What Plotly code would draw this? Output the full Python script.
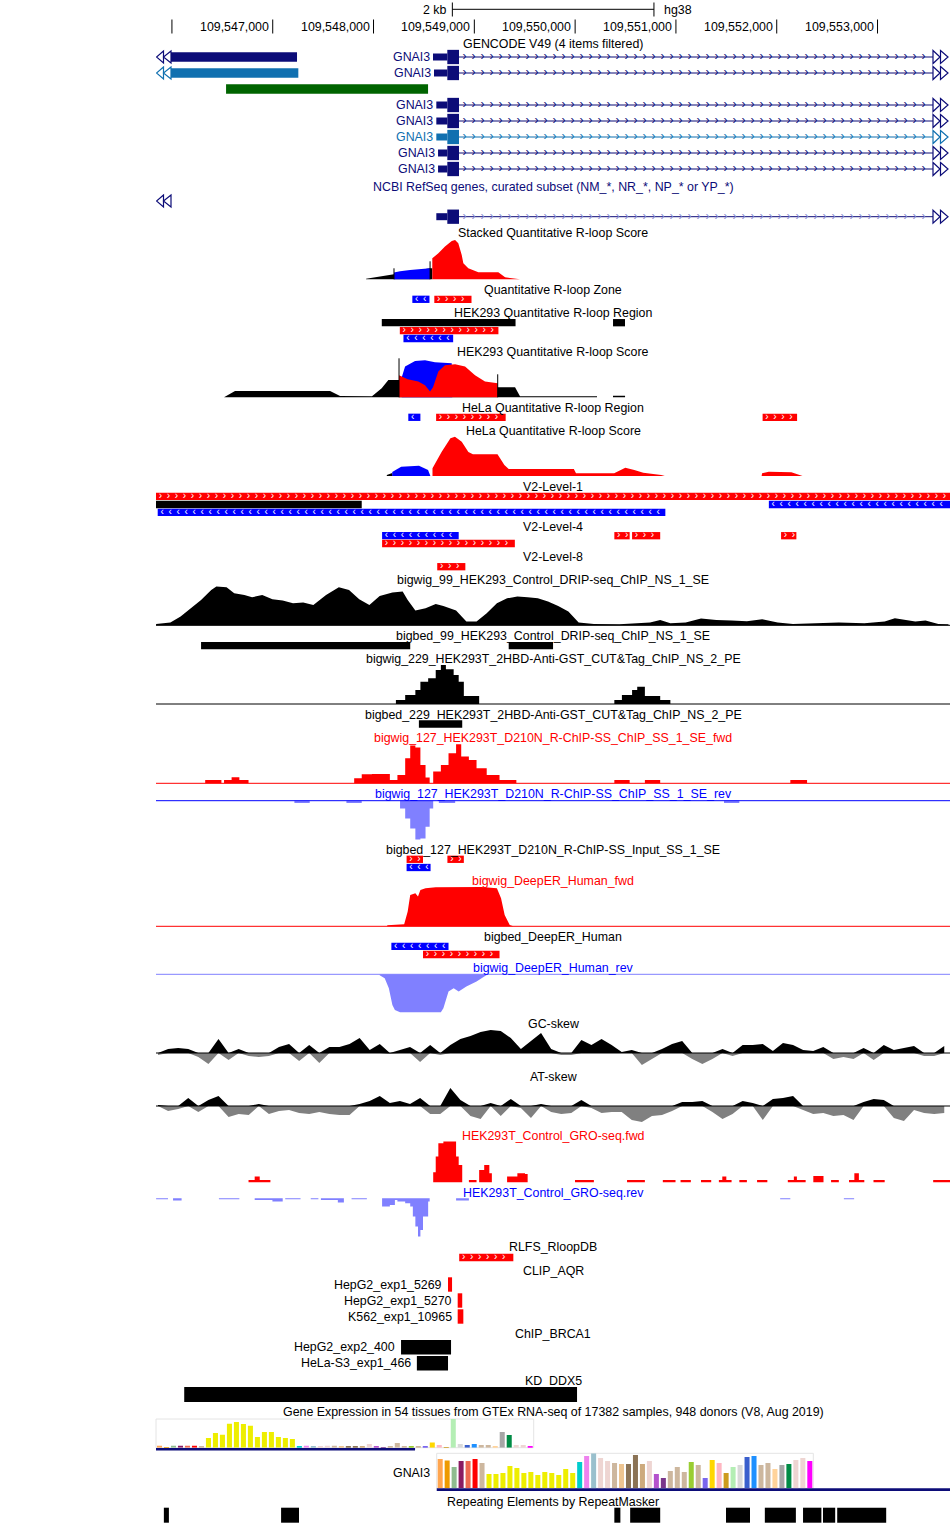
"""UCSC-style browser view of chr1 around GNAI3 (hg38), redrawn with Plotly."""
import plotly.graph_objects as go

# ------------------------------------------------------------------ data
VIEW = [109545842, 109553719]
RULER_TICKS = [109546000, 109547000, 109548000, 109549000,
               109550000, 109551000, 109552000, 109553000]
SCALE_BAR = [109548782, 109550782]

# GENCODE: genes on the left edge (start, end) and GNAI3 transcripts
LEFT_GENES = [(109545981, 109547241), (109545981, 109547254), (109546537, 109548541)]
GNAI3_TX_START = [109548590, 109548600, 109548623, 109548623, 109548623, 109548640, 109548640]
GNAI3_CDS_START = 109548732
GNAI3_EXON1_END = 109548848
GNAI3_END = 109595000
REFSEQ_TX_START = 109548623

# Stacked Quantitative R-loop Score
STACK_BLACK_X = [109547926, 109548048, 109548131, 109548203, 109548561, 109548583]
STACK_BLACK_Y = [0.5, 2.3, 3.7, 5, 11, 11]
STACK_BLUE_X = [109548203, 109548263, 109548362, 109548461, 109548561]
STACK_BLUE_Y = [6.7, 8, 9.3, 10, 11]
STACK_RED_X = [109548583, 109548643, 109548709, 109548776, 109548809, 109548841, 109548875,
               109548891, 109548940, 109549040, 109549238, 109549305, 109549453]
STACK_RED_Y = [21, 26, 32.7, 38.3, 39.3, 36, 24.3, 16, 11, 7, 7, 2, 0]
STACK_MARK_X = [109548203, 109548561]
STACK_MARK_Y = [11, 18]

# HEK293 Quantitative R-loop Score
HEK_BLACK_X = [109546517, 109546626, 109547569, 109547668, 109547985, 109548081, 109548147,
               109548253, 109549232, 109549404, 109549453, 109550217, 109550218, 109550375,
               109550376, 109550495, 109550496]
HEK_BLACK_Y = [0, 6.3, 6.3, 1.3, 1, 9, 17.3, 17.3, 10, 10, 1, 1, 0, 0, 1.5, 1.5, 0]
HEK_BLUE_X = [109548280, 109548313, 109548412, 109548511, 109548610, 109548709, 109548776, 109548781]
HEK_BLUE_Y = [20, 30.7, 36.3, 37, 35, 34, 34, 0]
HEK_RED_X = [109548253, 109548339, 109548444, 109548511, 109548561, 109548590, 109548643,
             109548709, 109548809, 109548908, 109549007, 109549106, 109549232]
HEK_RED_Y = [22, 18, 15.7, 12, 5.7, 10, 25.7, 32, 33, 30.7, 22, 15.7, 14]
HEK_MARK_X = [109548253, 109549232]
HEK_MARK_Y = [39, 23]

# HeLa Quantitative R-loop Score
HELA_BLACK_X = [109548132, 109548186, 109548190]
HELA_BLACK_Y = [1, 3, 0]
HELA_BLUE_X = [109548186, 109548274, 109548451, 109548541, 109548564]
HELA_BLUE_Y = [4, 9.3, 10.3, 6, 0]
HELA_RED_X = [109548585, 109548675, 109548763, 109548808, 109548875, 109548941, 109548986,
              109549230, 109549298, 109549341, 109549987, 109550009, 109550387, 109550498,
              109550587, 109550676, 109550854, 109550890, 109551850, 109551855, 109551921,
              109552145, 109552256]
HELA_RED_Y = [7.7, 24, 37.7, 39.3, 34.3, 24, 21.7, 21.7, 11, 7, 7, 2.7, 2.7, 8.3,
              6, 3.3, 1, 0, 0, 2.7, 4.3, 3.7, 0]

# bigwig_99 DRIP-seq
DRIP_X = [109545843, 109545985, 109546086, 109546188, 109546289, 109546390, 109546441, 109546542,
          109546618, 109546719, 109546795, 109546896, 109546997, 109547099, 109547201, 109547302,
          109547403, 109547529, 109547656, 109547757, 109547858, 109547959, 109548061, 109548187,
          109548289, 109548339, 109548415, 109548516, 109548617, 109548693, 109548819, 109548921,
          109549022, 109549123, 109549224, 109549325, 109549427, 109549529, 109549630, 109549731,
          109549832, 109549933, 109550035, 109550186, 109550439, 109550743, 109550844, 109550945,
          109551097, 109551249, 109551401, 109551552, 109551704, 109551856, 109552009, 109552161,
          109552363, 109552616, 109552869, 109553071, 109553172, 109553274, 109553375, 109553476,
          109553603, 109553704]
DRIP_Y = [1.3, 2.7, 8.7, 17, 25.3, 35.3, 38.7, 38, 32, 30.3,
          28, 30.3, 26, 24.7, 22, 22.7, 20.3, 30.3, 38, 35.3,
          26, 20.3, 29.3, 32.7, 33.7, 25.3, 14.7, 17, 21.3, 19.3,
          14.7, 3.7, 3.7, 12, 22, 27, 28.7, 28, 27, 23.7,
          19.3, 13.7, 2.7, 1.3, 1, 2.7, 5.3, 2, 2.7, 6.7,
          5.3, 4.7, 4, 6, 2.7, 1.3, 2, 2.7, 2, 3.7,
          7, 5.3, 3.7, 4.7, 1.3, 1]

# bigwig_229 CUT&Tag (step signal)
CUT_X = [109548222, 109548314, 109548415, 109548465, 109548542, 109548617, 109548668, 109548718,
         109548795, 109548845, 109548896, 109549048, 109550389, 109550464, 109550565, 109550616,
         109550692, 109550844, 109550945]
CUT_Y = [4, 9, 14, 22.3, 25.7, 34, 39, 34.7, 29, 22.3, 8, 0, 4, 9, 14, 17.3, 8, 4, 0]

# bigwig_127 R-ChIP fwd / rev (step signals)
RCHIP_FWD_X = [109546330, 109546491, 109546517, 109546592, 109546669, 109546760, 109547808,
               109547883, 109547984, 109548162, 109548237, 109548314, 109548364, 109548415,
               109548465, 109548516, 109548557, 109548592, 109548668, 109548744, 109548819,
               109548870, 109548946, 109549022, 109549123, 109549250, 109549417, 109550389,
               109550541, 109550692, 109550844, 109552135, 109552301]
RCHIP_FWD_Y = [3.3, 0, 3.3, 6, 3.3, 0, 5, 9, 9.3, 3.3, 8.3, 25, 37.7, 35.7, 18.3, 5.7, 0,
               11.7, 18.3, 30, 39, 26.7, 23.3, 15, 8.3, 3.3, 0, 3.3, 0, 3.3, 0, 3.3, 0]
RCHIP_REV_X = [109547215, 109547367, 109547731, 109547883, 109548263, 109548314, 109548364,
               109548415, 109548465, 109548516, 109548557, 109548592, 109548648, 109548810,
               109551477, 109551629]
RCHIP_REV_Y = [-2.3, 0, -2.3, 0, -7.7, -17.7, -27.7, -38.7, -37.7, -26, -7.7, 0, -2.3, 0, -2.3, 0]

# DeepER fwd / rev
DEEPER_FWD_X = [109548136, 109548212, 109548304, 109548339, 109548364, 109548415, 109548441,
                109548465, 109548516, 109548617, 109548819, 109549072, 109549224, 109549265,
                109549301, 109549351, 109549387]
DEEPER_FWD_Y = [1, 1.3, 2, 14.7, 31.3, 33, 29.7, 36.3, 38, 39, 39.3, 39.3, 38, 28, 11.3, 1.3, 0]
DEEPER_REV_X = [109548061, 109548111, 109548152, 109548187, 109548212, 109548263, 109548668,
                109548693, 109548744, 109548795, 109548845, 109548921, 109549022, 109549098,
                109549134]
DEEPER_REV_Y = [-1, -4, -14, -30.7, -35.7, -38, -38, -34, -17.3, -14, -17.3, -12.3, -7.3, -2.3, 0]

# GC / AT skew, 100 bp bins starting at SKEW_START
SKEW_START = 109545862
SKEW_BIN = 100
GC_SKEW = [-2, 4, 5, 4, -4, -11, 14, -7, 4, -3, -4, -3, 6, 9, -8, 8, -10, 6, 6, 9,
           15, 3, 9, -1, 3, 6, -9, 8, -2, 8, 14, 17, 21, 23, 22, 15, 4, 12, 20, 4,
           -2, -2, 13, 8, 14, 8, 1, 3, -12, -6, 4, 9, 12, -6, -11, -6, 4, -3, 8, 8,
           9, 2, 10, 8, 3, 2, 6, -6, -4, -6, 5, -7, 8, 3, 5, 7, -3, -3, 7]
AT_SKEW = [1, -5, -3, 8, -6, 6, 10, -11, -8, -9, 2, -8, -5, -4, -7, -8, -6, -8, -9, -9,
           2, 5, 10, 3, 5, 2, 8, -8, -8, 18, 6, -10, -13, 3, -10, 7, -2, -12, 2, -6,
           -8, -7, 6, -2, -7, -6, -6, -14, -16, -10, -9, -5, 4, 4, 5, -6, -13, -8, 5, 3,
           -14, 7, 8, 10, -4, -8, -7, -10, -9, -14, 4, 7, 6, -12, -15, -4, -7, -8, -7]

# GRO-seq fwd / rev (step signals)
GRO_FWD_X = [109546760, 109546821, 109546871, 109546977, 109548592, 109548617, 109548643,
             109548693, 109548819, 109548845, 109548880, 109548946, 109549022, 109549048,
             109549098, 109549149, 109549174, 109549325, 109549427, 109549503, 109549529,
             109549999, 109550186, 109550515, 109550692, 109550870, 109550996, 109551046,
             109551148, 109551249, 109551350, 109551426, 109551460, 109551500, 109551552,
             109551629, 109551704, 109551805, 109551907, 109552110, 109552170, 109552200,
             109552287, 109552363, 109552464, 109552539, 109552616, 109552717, 109552770,
             109552815, 109552869, 109552960, 109553071, 109553552, 109553719]
GRO_FWD_Y = [2.3, 5.7, 2.3, 0, 10, 25.7, 39, 40.7, 25.7, 17.3, 0, 2.3, 0, 12.3, 17.3, 9, 0,
             5.7, 9, 8.3, 0, 2.3, 0, 2.3, 0, 2.3, 0, 2.3, 0, 2.3, 0, 2.3, 5.7, 2.3, 0,
             2.3, 0, 2.3, 0, 2.3, 5.7, 2.3, 0, 6.3, 0, 2.3, 0, 2.3, 9, 2.3, 0, 2.3, 0, 2.3, 2.3]
GRO_REV_X = [109545843, 109545961, 109546011, 109546096, 109546466, 109546669, 109546821,
             109546997, 109547099, 109547124, 109547276, 109547377, 109547453, 109547478,
             109547646, 109547706, 109547782, 109547934, 109548085, 109548162, 109548212,
             109548237, 109548314, 109548364, 109548390, 109548415, 109548441, 109548465,
             109548491, 109548542, 109548557, 109548819, 109548946, 109552034, 109552135,
             109552666, 109552768]
GRO_REV_Y = [-1, 0, -2.3, 0, -1, 0, -1.7, -3.3, 0, -1, 0, -1, 0, -1.7, -4.3, 0, -1, 0,
             -8.3, -6.7, -1.7, -3.3, -5, -8.3, -18.3, -28.3, -38.3, -31.7, -18.3, -3.3, 0,
             -2.3, 0, -1, 0, -1, 0]

# bed tracks: (start, end, strand, row)
ZONE = [(109548385, 109548555, "-", 0), (109548603, 109548972, "+", 0)]
HEK_REGION = [(109548082, 109549409, ".", 0), (109550376, 109550495, ".", 0),
              (109548261, 109549239, "+", 1), (109548297, 109548790, "-", 2)]
HELA_REGION = [(109548345, 109548465, "-", 0), (109548621, 109549311, "+", 0),
               (109551860, 109552202, "+", 0)]
V2_LEVEL1 = [(109545000, 109554500, "+", 0), (109545000, 109547883, ".", 1),
             (109551922, 109554500, "-", 1), (109545859, 109550895, "-", 2)]
V2_LEVEL4 = [(109548085, 109548845, "-", 0), (109550389, 109550541, "+", 0),
             (109550565, 109550844, "+", 0), (109552043, 109552195, "+", 0),
             (109548085, 109549402, "+", 1)]
V2_LEVEL8 = [(109548632, 109548911, "+", 0)]
DRIP_PEAKS = [(109546289, 109548364, ".", 0), (109549341, 109549781, ".", 0)]
CUT_PEAKS = [(109548450, 109548880, ".", 0)]
RCHIP_INPUT = [(109548328, 109548491, "+", 0), (109548733, 109548896, "+", 0),
               (109548328, 109548566, "-", 1)]
DEEPER_PEAKS = [(109548177, 109548744, "-", 0), (109548491, 109549250, "+", 1)]
RLFS = [(109548850, 109549387, "+", 0)]

CLIP_AQR = [("HepG2_exp1_5269", 109548739, 109548779),
            ("HepG2_exp1_5270", 109548835, 109548880),
            ("K562_exp1_10965", 109548835, 109548891)]
CHIP_BRCA1 = [("HepG2_exp2_400", 109548273, 109548769),
              ("HeLa-S3_exp1_466", 109548430, 109548739)]
KD_DDX5 = [(109546122, 109550019)]
REPEATS = [(109545920, 109545970), (109547083, 109547261), (109550389, 109550449),
           (109550546, 109550844), (109551497, 109551735), (109551882, 109552190),
           (109552261, 109552443), (109552459, 109552580), (109552600, 109553086)]

# GTEx
TISSUES = ["Adipose - Subcutaneous", "Adipose - Visceral (Omentum)", "Adrenal Gland",
           "Artery - Aorta", "Artery - Coronary", "Artery - Tibial", "Bladder",
           "Brain - Amygdala", "Brain - Anterior cingulate cortex (BA24)",
           "Brain - Caudate (basal ganglia)", "Brain - Cerebellar Hemisphere",
           "Brain - Cerebellum", "Brain - Cortex", "Brain - Frontal Cortex (BA9)",
           "Brain - Hippocampus", "Brain - Hypothalamus",
           "Brain - Nucleus accumbens (basal ganglia)", "Brain - Putamen (basal ganglia)",
           "Brain - Spinal cord (cervical c-1)", "Brain - Substantia nigra",
           "Breast - Mammary Tissue", "Cells - EBV-transformed lymphocytes",
           "Cells - Cultured fibroblasts", "Cervix - Ectocervix", "Cervix - Endocervix",
           "Colon - Sigmoid", "Colon - Transverse", "Esophagus - Gastroesophageal Junction",
           "Esophagus - Mucosa", "Esophagus - Muscularis", "Fallopian Tube",
           "Heart - Atrial Appendage", "Heart - Left Ventricle", "Kidney - Cortex",
           "Kidney - Medulla", "Liver", "Lung", "Minor Salivary Gland", "Muscle - Skeletal",
           "Nerve - Tibial", "Ovary", "Pancreas", "Pituitary", "Prostate",
           "Skin - Not Sun Exposed (Suprapubic)", "Skin - Sun Exposed (Lower leg)",
           "Small Intestine - Terminal Ileum", "Spleen", "Stomach", "Testis", "Thyroid",
           "Uterus", "Vagina", "Whole Blood"]
TISSUE_COLORS = ["#FFA54F", "#EE9A00", "#8FBC8F", "#8B1C62", "#EE6A50", "#FF0000", "#CDB79E"] + \
                ["#EEEE00"] * 13 + \
                ["#00CDCD", "#EE82EE", "#9AC0CD", "#EED5D2", "#EED5D2", "#CDB79E", "#EEC591",
                 "#8B7355", "#8B7355", "#CDAA7D", "#EED5D2", "#B452CD", "#7A378B", "#CDB79E",
                 "#CDB79E", "#CDB79E", "#9ACD32", "#CDB79E", "#7A67EE", "#FFD700", "#FFB6C1",
                 "#CD9B1D", "#B4EEB4", "#D9D9D9", "#3A5FCD", "#1E90FF", "#CDB79E", "#CDB79E",
                 "#FFD39B", "#A6A6A6", "#008B45", "#EED5D2", "#EED5D2", "#FF00FF"]
GTEX_UPSTREAM = [2, 0.3, 2, 2, 2, 2, 1.7, 9.7, 14.7, 13, 24, 25.7, 23.7, 22, 10.7, 15.7, 15.7,
                 10.7, 9.7, 8.7, 1, 2, 1.3, 1.3, 2, 2, 1.3, 1.3, 1.3, 1.3, 3.7, 1.3, 0.3, 1.3,
                 4.7, 1.3, 1.3, 1.3, 1.3, 5.3, 2.7, 0.3, 28.7, 3.7, 2.7, 3.7, 2.7, 2.7, 1,
                 15.7, 12.7, 2.7, 2.7, 1]
GTEX_GNAI3 = [29.3, 27.7, 21.3, 27.3, 27.3, 29.3, 25.3, 14.3, 14.3, 15.3, 22.3, 20.3, 15.3,
              16.3, 13.3, 16.3, 15.3, 13.3, 19.3, 15.3, 26.3, 32.3, 35, 30.3, 27.3, 25.3,
              24.3, 24.3, 33.3, 24.3, 27.3, 14.3, 10.3, 17.3, 21.3, 16.3, 26.3, 23.3, 10.3,
              28.3, 25.3, 15.3, 21.3, 23.3, 31.3, 32.3, 23.3, 25.3, 19.3, 23.3, 24.3, 28.3,
              30.3, 27.3]
GTEX_UPSTREAM_GENE_END = 109548412
GTEX_GNAI3_START = 109548627

# ------------------------------------------------------------------ style / layout
W, H = 950, 1524
PLOT_W = 794
BP_PX = (VIEW[1] - VIEW[0]) / PLOT_W
FONT = "Liberation Sans"
FS = 12.4
NAVY = "#0C0C78"
STEEL = "#1070B0"
GREEN = "#006400"
RED = "#FF0000"
BLUE = "#0000FF"
LAV = "#8080FF"
GREY = "#808080"
STRAND_COLOR = {"+": RED, "-": BLUE, ".": "black"}

fig = go.Figure()
shapes, notes, marks = [], [], {}
axis_no = [1]


def px_x(px):
    return VIEW[0] + (px - 156) * BP_PX


def clip(x0, x1):
    return max(x0, VIEW[0]), min(x1, VIEW[1])


def bar(x0, x1, yc, h, color):
    x0, x1 = clip(x0, x1)
    shapes.append(dict(type="rect", xref="x", yref="y", x0=x0, x1=x1, y0=yc - h / 2,
                       y1=yc + h / 2, fillcolor=color, line_width=0, layer="below"))


def hline(x0, x1, y, color, width=1):
    x0, x1 = clip(x0, x1)
    shapes.append(dict(type="line", xref="x", yref="y", x0=x0, x1=x1, y0=y, y1=y,
                       line=dict(color=color, width=width), layer="below"))


def tri(tip_px, base_px, yc, half, color):
    xt, xb = px_x(tip_px), px_x(base_px)
    shapes.append(dict(type="path", xref="x", yref="y",
                       path=f"M{xb},{yc - half} L{xt},{yc} L{xb},{yc + half} Z",
                       line=dict(color=color, width=1.2), fillcolor="white"))


def chevron_xs(x0, x1, step_px, lead=0.55, tail_px=None):
    x0, x1 = clip(x0, x1)
    if tail_px is not None:
        x1 = min(x1, px_x(tail_px))
    step = step_px * BP_PX
    xs, x = [], x0 + step * lead
    while x < x1 - step * 0.35:
        xs.append(x)
        x += step
    return xs


def add_marks(char, color, size, xs, y):
    mx, my = marks.setdefault((char, color, size), ([], []))
    mx.extend(xs)
    my.extend([y] * len(xs))


def title(text, y, color="black"):
    notes.append(dict(text=text, x=0.5, xref="paper", y=y, yref="y", xanchor="center",
                      yanchor="middle", showarrow=False, font=dict(color=color, size=FS)))


def label(text, x, y, color="black", anchor="right", shift=-3, xref="x"):
    notes.append(dict(text=text, x=x, xref=xref, y=y, yref="y", xanchor=anchor,
                      yanchor="middle", xshift=shift, showarrow=False,
                      font=dict(color=color, size=FS)))


def bed_track(features, rows, h=7.3):
    for start, end, strand, row in features:
        bar(start, end, rows[row], h, STRAND_COLOR[strand])
        if strand != ".":
            add_marks("›" if strand == "+" else "‹", "white", 10,
                      chevron_xs(start, end, 8), rows[row])


def signal_axis(base, up, down):
    axis_no[0] += 1
    n = axis_no[0]
    fig.update_layout(**{f"yaxis{n}": dict(domain=[1 - (base + down) / H, 1 - (base - up) / H],
                                           range=[-down, up], visible=False, fixedrange=True)})
    return f"y{n}"


def area(yref, xs, ys, color, shape="linear"):
    fig.add_trace(go.Scatter(x=xs, y=ys, yaxis=yref, mode="lines", fill="tozeroy",
                             fillcolor=color, line=dict(width=0, shape=shape),
                             hoverinfo="skip"))


def spikes(yref, xs, tops, color="black"):
    X, Y = [], []
    for x, t in zip(xs, tops):
        X += [x, x, None]
        Y += [0, t, None]
    fig.add_trace(go.Scatter(x=X, y=Y, yaxis=yref, mode="lines",
                             line=dict(color=color, width=1), hoverinfo="skip"))


def baseline(yref, color):
    shapes.append(dict(type="line", xref="paper", x0=0, x1=1, yref=yref, y0=0, y1=0,
                       line=dict(color=color, width=1)))


# ---- ruler
tick_x, tick_y = [], []
for t in RULER_TICKS:
    tick_x += [t, t, None]
    tick_y += [19.5, 33.5, None]
tick_x += [SCALE_BAR[0], SCALE_BAR[0], None, SCALE_BAR[0], SCALE_BAR[1], None,
           SCALE_BAR[1], SCALE_BAR[1]]
tick_y += [2.5, 16.5, None, 9.3, 9.3, None, 2.5, 16.5]
fig.add_trace(go.Scatter(x=tick_x, y=tick_y, mode="lines", line=dict(color="black", width=1),
                         hoverinfo="skip"))
for t in RULER_TICKS[1:]:
    label(f"{t:,}", t, 27.3, shift=-2)
label("2 kb", SCALE_BAR[0], 9.8, shift=-3)
label("hg38", SCALE_BAR[1], 9.8, anchor="left", shift=8)

# ---- GENCODE / RefSeq
title("GENCODE V49 (4 items filtered)", 43.7)
GENCODE_Y = [57, 73, 89, 105, 121, 137, 153, 169]
LEFT_COLORS = [NAVY, STEEL, GREEN]
for (s, e), yc, col in zip(LEFT_GENES, GENCODE_Y, LEFT_COLORS):
    bar(s, e, yc, 9.3, col)
for yc, col in zip(GENCODE_Y[:2], LEFT_COLORS[:2]):
    tri(156.5, 163.5, yc, 6, col)
    tri(163.5, 171, yc, 6, col)

GNAI3_Y = [57, 73, 105, 121, 137, 153, 169]
GNAI3_COLORS = [NAVY, NAVY, NAVY, NAVY, STEEL, NAVY, NAVY]


def gnai3_model(tx_start, yc, col, arrow_col, name=None):
    hline(GNAI3_EXON1_END, px_x(933), yc, col)
    bar(tx_start, GNAI3_CDS_START, yc, 7, col)
    bar(GNAI3_CDS_START, GNAI3_EXON1_END, yc, 14.3, col)
    add_marks("›", arrow_col, 12, chevron_xs(GNAI3_EXON1_END, GNAI3_END, 9, 0.6, 930), yc)
    tri(940, 933, yc, 6.5, col)
    tri(948, 940.5, yc, 6.5, col)
    if name:
        label(name, tx_start, yc, color=col, shift=-1)


for tx, yc, col in zip(GNAI3_TX_START, GNAI3_Y, GNAI3_COLORS):
    gnai3_model(tx, yc, col, col, "GNAI3")

title("NCBI RefSeq genes, curated subset (NM_*, NR_*, NP_* or YP_*)", 186.7, NAVY)
tri(156.5, 163.5, 201, 6, NAVY)
tri(163.5, 171, 201, 6, NAVY)
gnai3_model(REFSEQ_TX_START, 216.7, NAVY, "#8C8CD0")

# ---- R-loop score / region tracks
title("Stacked Quantitative R-loop Score", 233.3)
ya = signal_axis(279.3, 41, 1.5)
area(ya, STACK_BLACK_X, STACK_BLACK_Y, "black")
area(ya, STACK_BLUE_X, STACK_BLUE_Y, BLUE)
area(ya, STACK_RED_X, STACK_RED_Y, RED)
spikes(ya, STACK_MARK_X, STACK_MARK_Y)

title("Quantitative R-loop Zone", 290)
bed_track(ZONE, [299.3])
title("HEK293 Quantitative R-loop Region", 313.3)
bed_track(HEK_REGION, [322.7, 330.7, 338.5])

title("HEK293 Quantitative R-loop Score", 351.7)
ya = signal_axis(397.3, 41, 1.5)
area(ya, HEK_BLACK_X, HEK_BLACK_Y, "black")
area(ya, HEK_BLUE_X, HEK_BLUE_Y, BLUE)
area(ya, HEK_RED_X, HEK_RED_Y, RED)
spikes(ya, HEK_MARK_X, HEK_MARK_Y)

title("HeLa Quantitative R-loop Region", 408.3)
bed_track(HELA_REGION, [417.3])
title("HeLa Quantitative R-loop Score", 430.7)
ya = signal_axis(476, 41, 1.5)
area(ya, HELA_BLACK_X, HELA_BLACK_Y, "black")
area(ya, HELA_BLUE_X, HELA_BLUE_Y, BLUE)
area(ya, HELA_RED_X, HELA_RED_Y, RED)

title("V2-Level-1", 486.7)
bed_track(V2_LEVEL1, [496.3, 504.5, 512.3])
title("V2-Level-4", 526.7)
bed_track(V2_LEVEL4, [535.7, 543.5])
title("V2-Level-8", 557.3)
bed_track(V2_LEVEL8, [566.7])

# ---- DRIP / CUT&Tag / R-ChIP / DeepER
title("bigwig_99_HEK293_Control_DRIP-seq_ChIP_NS_1_SE", 580)
ya = signal_axis(625.3, 41, 1.5)
area(ya, DRIP_X, DRIP_Y, "black")
baseline(ya, "black")
title("bigbed_99_HEK293_Control_DRIP-seq_ChIP_NS_1_SE", 636)
bed_track(DRIP_PEAKS, [645.7])

title("bigwig_229_HEK293T_2HBD-Anti-GST_CUT&amp;Tag_ChIP_NS_2_PE", 659.3)
ya = signal_axis(704, 41, 1.5)
area(ya, CUT_X, CUT_Y, "black", "hv")
baseline(ya, "black")
title("bigbed_229_HEK293T_2HBD-Anti-GST_CUT&amp;Tag_ChIP_NS_2_PE", 715)
bed_track(CUT_PEAKS, [724])

title("bigwig_127_HEK293T_D210N_R-ChIP-SS_ChIP_SS_1_SE_fwd", 737.7, RED)
ya = signal_axis(783.3, 41, 1.5)
area(ya, RCHIP_FWD_X, RCHIP_FWD_Y, RED, "hv")
baseline(ya, RED)
ya = signal_axis(800.7, 1.5, 41)
area(ya, RCHIP_REV_X, RCHIP_REV_Y, LAV, "hv")
baseline(ya, BLUE)
title("bigwig_127_HEK293T_D210N_R-ChIP-SS_ChIP_SS_1_SE_rev", 794, BLUE)

title("bigbed_127_HEK293T_D210N_R-ChIP-SS_Input_SS_1_SE", 850)
bed_track(RCHIP_INPUT, [859.3, 867.5])

title("bigwig_DeepER_Human_fwd", 880.7, RED)
ya = signal_axis(926.3, 41, 1.5)
area(ya, DEEPER_FWD_X, DEEPER_FWD_Y, RED)
baseline(ya, RED)
title("bigbed_DeepER_Human", 936.7)
bed_track(DEEPER_PEAKS, [946.3, 954.5])
ya = signal_axis(974.3, 1.5, 41)
area(ya, DEEPER_REV_X, DEEPER_REV_Y, LAV)
baseline(ya, LAV)
title("bigwig_DeepER_Human_rev", 967.7, BLUE)

# ---- skews
skew_x = [SKEW_START + i * SKEW_BIN for i in range(len(GC_SKEW))]
for name, vals, y0 in (("GC-skew", GC_SKEW, 1053), ("AT-skew", AT_SKEW, 1106)):
    title(name, y0 - 29)
    ya = signal_axis(y0, 26, 26)
    baseline(ya, "black")
    area(ya, skew_x, [max(v, 0) for v in vals], "black")
    area(ya, skew_x, [min(v, 0) for v in vals], GREY)

# ---- GRO-seq
title("HEK293T_Control_GRO-seq.fwd", 1136, RED)
ya = signal_axis(1182.3, 42, 1.5)
area(ya, GRO_FWD_X, GRO_FWD_Y, RED, "hv")
ya = signal_axis(1198.3, 1.5, 41)
area(ya, GRO_REV_X, GRO_REV_Y, LAV, "hv")
title("HEK293T_Control_GRO-seq.rev", 1192.7, BLUE)

# ---- RLFS, CLIP, ChIP, KD
title("RLFS_RloopDB", 1247.3)
bed_track(RLFS, [1257.5])

title("CLIP_AQR", 1270.7)
for (name, s, e), yc in zip(CLIP_AQR, [1284.5, 1300.5, 1316.5]):
    bar(s, e, yc, 14.4, RED)
    label(name, s, yc, shift=-4)

title("ChIP_BRCA1", 1334)
for (name, s, e), yc in zip(CHIP_BRCA1, [1347.3, 1363.3]):
    bar(s, e, yc, 14.6, "black")
    label(name, s, yc, shift=-4)

title("KD_DDX5", 1381)
for s, e in KD_DDX5:
    bar(s, e, 1394.5, 15, "black")

# ---- GTEx
title("Gene Expression in 54 tissues from GTEx RNA-seq of 17382 samples, "
      "948 donors (V8, Aug 2019)", 1412)
gtex_rows = [("x2", "y20", GTEX_UPSTREAM, [0, (533.7 - 156) / PLOT_W], 1447.7, 1419, 28.7),
             ("x3", "y21", GTEX_GNAI3, [(436.7 - 156) / PLOT_W, (813.3 - 156) / PLOT_W],
              1488.3, 1453.3, 35)]
for xa, yax, vals, dom, bot, top, vmax in gtex_rows:
    fig.add_trace(go.Bar(x=TISSUES, y=vals, xaxis=xa, yaxis=yax, width=0.72,
                         marker=dict(color=TISSUE_COLORS, line_width=0), hoverinfo="skip"))
    fig.update_layout(**{
        "xaxis" + xa[1:]: dict(domain=dom, anchor=yax, range=[-0.5, len(TISSUES) - 0.5],
                               visible=False, fixedrange=True),
        "yaxis" + yax[1:]: dict(domain=[1 - bot / H, 1 - top / H], anchor=xa,
                                range=[0, vmax], visible=False, fixedrange=True)})
    shapes.append(dict(type="rect", xref=xa + " domain", yref=yax + " domain", x0=0, x1=1,
                       y0=0, y1=1, line=dict(color="#E4E4E4", width=1), layer="below"))
bar(VIEW[0] - 1000, GTEX_UPSTREAM_GENE_END, 1449.3, 2.6, NAVY)
bar(GTEX_GNAI3_START, GNAI3_END, 1489.6, 2.6, NAVY)
label("GNAI3", 0, 1473.3, shift=-5, xref="x3 domain")

# ---- RepeatMasker
title("Repeating Elements by RepeatMasker", 1501.7)
for s, e in REPEATS:
    bar(s, e, 1515.2, 15, "black")

# ---- chevrons / intron arrows
for (char, color, size), (mx, my) in marks.items():
    fig.add_trace(go.Scatter(x=mx, y=my, mode="text", text=[char] * len(mx),
                             textposition="middle center",
                             textfont=dict(color=color, size=size, family=FONT),
                             hoverinfo="skip"))

fig.update_layout(
    width=W, height=H, margin=dict(l=156, r=0, t=0, b=0),
    paper_bgcolor="white", plot_bgcolor="rgba(0,0,0,0)", showlegend=False,
    font=dict(family=FONT, size=FS, color="black"),
    xaxis=dict(range=VIEW, visible=False, fixedrange=True),
    yaxis=dict(range=[H, 0], visible=False, fixedrange=True),
    shapes=shapes, annotations=notes)

fig.write_html("out.html", config={"displayModeBar": False},
               post_script="document.body.style.margin='0';")
